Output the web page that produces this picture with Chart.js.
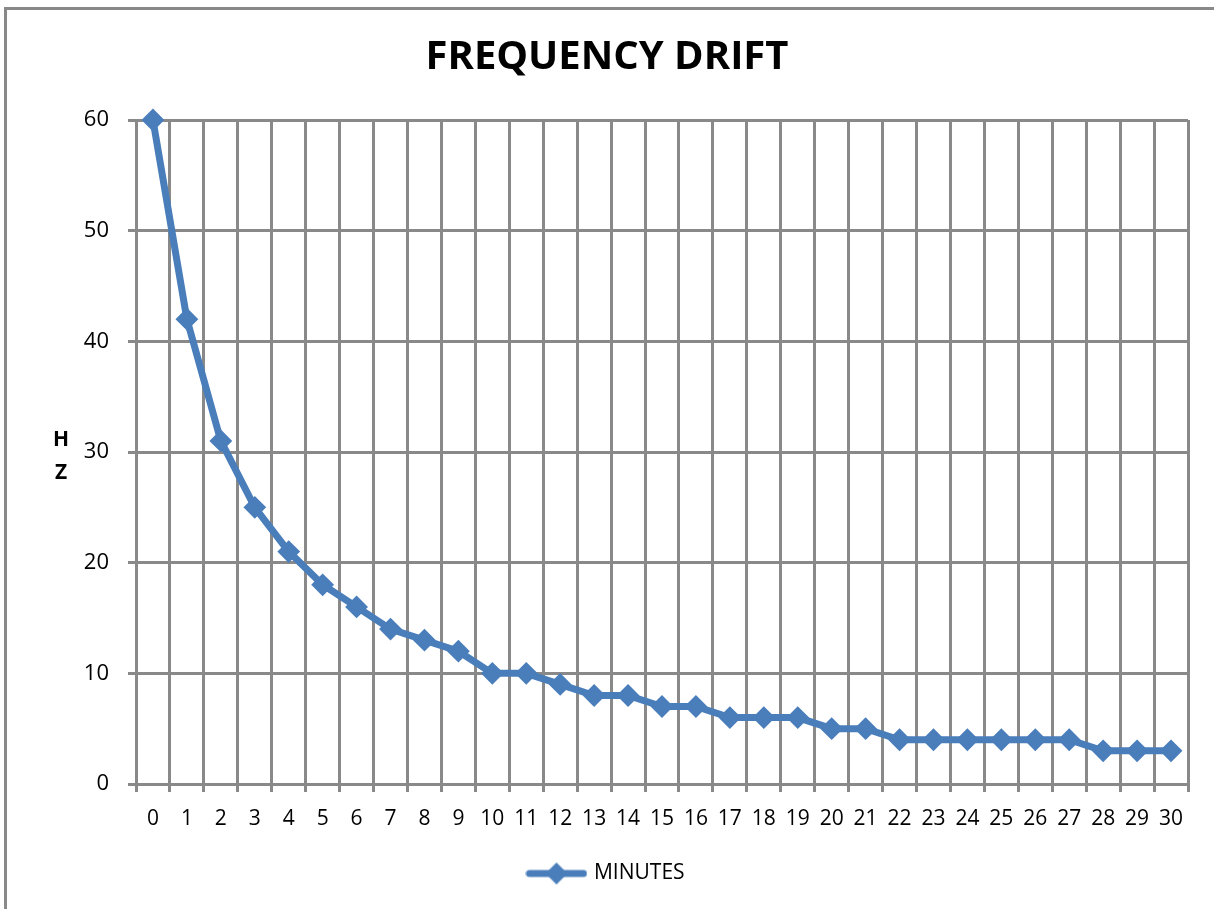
<!DOCTYPE html>
<html>
<head>
<meta charset="utf-8">
<title>Frequency Drift</title>
<script src="https://cdn.jsdelivr.net/npm/chart.js@4.4.0/dist/chart.umd.min.js"></script>
<style>
  html, body { margin: 0; padding: 0; background: #fff; }
  #wrap { width: 1214px; height: 909px; }
</style>
</head>
<body>
<div id="wrap"><canvas id="driftChart" width="1214" height="909"></canvas></div>
<script>
var minutes = ['0', '1', '2', '3', '4', '5', '6', '7', '8', '9', '10', '11', '12', '13', '14', '15',
               '16', '17', '18', '19', '20', '21', '22', '23', '24', '25', '26', '27', '28', '29', '30'];
var hz = [60, 42, 31, 25, 21, 18, 16, 14, 13, 12, 10, 10, 9, 8, 8, 7,
          7, 6, 6, 6, 5, 5, 4, 4, 4, 4, 4, 4, 3, 3, 3];
var yTicks = [0, 10, 20, 30, 40, 50, 60];

var blue = '#4a7ebb';
var gridGray = '#898989';
var fontFamily = '"Open Sans", "DejaVu Sans", sans-serif';

// legend symbol: short line with a diamond in the middle
var legendMark = document.createElement('canvas');
legendMark.width = 62;
legendMark.height = 26;
(function () {
    var c = legendMark.getContext('2d');
    c.strokeStyle = blue;
    c.fillStyle = blue;
    c.lineWidth = 7;
    c.lineCap = 'round';
    c.beginPath();
    c.moveTo(4, 13);
    c.lineTo(58, 13);
    c.stroke();
    c.beginPath();
    c.moveTo(31, 2);
    c.lineTo(42, 13);
    c.lineTo(31, 24);
    c.lineTo(20, 13);
    c.closePath();
    c.fill();
})();

// outer frame and the stacked "H Z" axis label
var decorations = {
    id: 'decorations',
    beforeDraw: function (chart) {
        var c = chart.ctx;
        c.save();
        c.strokeStyle = gridGray;
        c.lineWidth = 3;
        c.strokeRect(5.5, 8.5, 1400, 1000);
        c.restore();
    },
    afterDraw: function (chart) {
        var c = chart.ctx;
        c.save();
        c.fillStyle = '#000';
        c.font = 'bold 21px ' + fontFamily;
        c.textAlign = 'center';
        c.textBaseline = 'middle';
        c.fillText('H', 61, 440);
        c.fillText('Z', 61, 473);
        c.restore();
    }
};

var ctx = document.getElementById('driftChart').getContext('2d');
var myChart = new Chart(ctx, {
    type: 'line',
    data: {
        labels: minutes,
        datasets: [
            {
                label: 'MINUTES',
                data: hz,
                borderColor: blue,
                backgroundColor: blue,
                borderWidth: 7,
                pointStyle: 'rectRot',
                pointRadius: 10,
                pointBorderWidth: 2,
                pointBackgroundColor: blue,
                pointBorderColor: blue,
                tension: 0,
                clip: false
            }
        ]
    },
    options: {
        responsive: false,
        animation: false,
        layout: {
            padding: { left: 0, right: 0, top: 0, bottom: 15 }
        },
        plugins: {
            title: {
                display: true,
                text: 'FREQUENCY DRIFT',
                color: '#000',
                font: { family: fontFamily, size: 40, weight: 'bold', lineHeight: 1.2 },
                padding: { top: 34, bottom: 38 }
            },
            legend: {
                display: true,
                position: 'bottom',
                labels: {
                    usePointStyle: true,
                    pointStyle: legendMark,
                    pointStyleWidth: 54,
                    color: '#000',
                    font: { family: fontFamily, size: 21 },
                    padding: 10
                }
            },
            tooltip: { enabled: false }
        },
        scales: {
            x: {
                type: 'category',
                offset: true,
                grid: {
                    offset: true,
                    color: gridGray,
                    lineWidth: 3,
                    tickLength: 8,
                    tickColor: gridGray
                },
                border: { color: gridGray, width: 3 },
                ticks: {
                    color: '#000',
                    font: { family: fontFamily, size: 21 },
                    padding: 14,
                    maxRotation: 0,
                    autoSkip: false
                },
                afterFit: function (scale) { scale.height = 69; }
            },
            y: {
                min: 0,
                max: 60,
                afterBuildTicks: function (scale) {
                    scale.ticks = yTicks.map(function (v) { return { value: v }; });
                },
                grid: {
                    color: gridGray,
                    lineWidth: 3,
                    tickLength: 8,
                    tickColor: gridGray
                },
                border: { color: gridGray, width: 3 },
                ticks: {
                    color: '#000',
                    font: { family: fontFamily, size: 22 },
                    padding: 19
                },
                afterFit: function (scale) { scale.width = 136; }
            },
            // empty right-hand strip so the plot stops short of the frame
            spacer: {
                type: 'linear',
                position: 'right',
                grid: { display: false, drawTicks: false },
                border: { display: false },
                ticks: { display: false },
                afterFit: function (scale) { scale.width = 26; }
            }
        }
    },
    plugins: [decorations]
});
</script>
</body>
</html>
